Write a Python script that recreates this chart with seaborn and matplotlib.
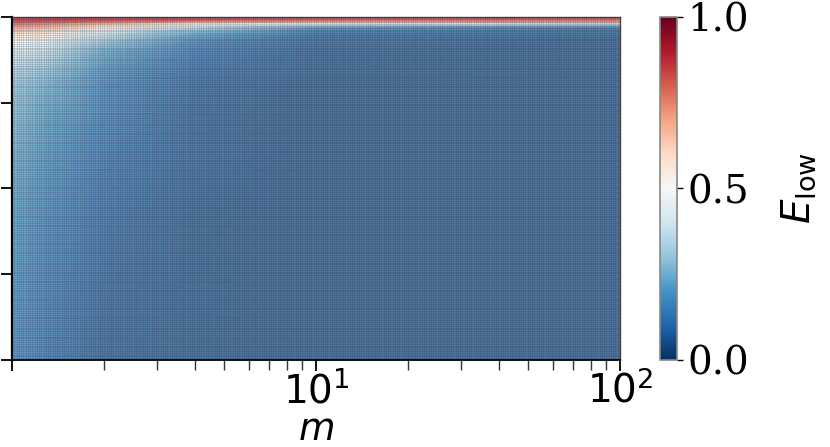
import numpy as np
import matplotlib
matplotlib.use("Agg")
import matplotlib.pyplot as plt
import seaborn as sns
from matplotlib.ticker import FixedLocator, NullFormatter, MultipleLocator
from matplotlib.colors import Normalize, ListedColormap
from matplotlib.cm import ScalarMappable

# ---- data ----
m_values = [1, 1.3, 2, 4, 10, 100]
y_values = [0, 0.2, 0.4, 0.6, 0.7, 0.8, 0.85, 0.9, 0.93, 0.95, 0.97, 0.98, 0.99, 1.0]
E_low = [
    [0.14, 0.10, 0.06, 0.05, 0.04, 0.04],   # y=0
    [0.16, 0.11, 0.07, 0.05, 0.04, 0.04],   # y=0.2
    [0.19, 0.13, 0.08, 0.05, 0.04, 0.04],   # y=0.4
    [0.23, 0.17, 0.10, 0.06, 0.04, 0.04],   # y=0.6
    [0.26, 0.20, 0.12, 0.06, 0.04, 0.04],   # y=0.7
    [0.29, 0.24, 0.14, 0.07, 0.04, 0.04],   # y=0.8
    [0.34, 0.29, 0.17, 0.08, 0.05, 0.04],   # y=0.85
    [0.42, 0.37, 0.22, 0.10, 0.05, 0.04],   # y=0.9
    [0.50, 0.46, 0.30, 0.13, 0.06, 0.04],   # y=0.93
    [0.58, 0.54, 0.39, 0.20, 0.07, 0.05],   # y=0.95
    [0.72, 0.68, 0.55, 0.35, 0.15, 0.08],   # y=0.97
    [0.82, 0.78, 0.70, 0.55, 0.45, 0.35],   # y=0.98
    [0.90, 0.90, 0.88, 0.85, 0.82, 0.80],   # y=0.99
    [0.95, 0.95, 0.95, 0.95, 0.95, 0.95],   # y=1.0
]
cbar_ticks = [0.0, 0.5, 1.0]
cbar_ticklabels = ["0.0", "0.5", "1.0"]
x_ticks = [1, 10, 100]
x_ticklabels = ["", r"$10^1$", r"$10^2$"]
y_ticks = [0, 0.25, 0.5, 0.75, 1.0]

sns.set_theme(style="ticks")
plt.rcParams['font.family'] = ['DejaVu Sans']
plt.rcParams['mathtext.fontset'] = 'dejavusans'
plt.rcParams['text.color'] = 'black'
plt.rcParams['axes.labelcolor'] = 'black'
plt.rcParams['xtick.color'] = 'black'
plt.rcParams['ytick.color'] = 'black'

cmap = sns.color_palette("RdBu_r", as_cmap=True)
# washed-out version of the same map for the field (semi-transparent look)
_c = cmap(np.linspace(0, 1, 256))
_c[:, :3] = _c[:, :3] * 0.74 + np.array([0.27, 0.26, 0.24])
_c[:, :3] = np.clip(_c[:, :3], 0, 1)
field_cmap = ListedColormap(_c)
norm = Normalize(0, 1)

fig = plt.figure(figsize=(8.3, 4.47), dpi=100)
ax = fig.add_axes([12/830, 87/447, 608/830, 343/447])
cax = fig.add_axes([660/830, 87/447, 17/830, 343/447])

X, Y = np.meshgrid(np.array(m_values, float), np.array(y_values, float))
ax.pcolormesh(X, Y, np.array(E_low), cmap=field_cmap, norm=norm,
              shading="gouraud", antialiased=False, rasterized=True)
ax.set_xscale("log")
ax.set_xlim(1, 100)
ax.set_ylim(0, 1)

ax.xaxis.set_major_locator(FixedLocator(x_ticks))
ax.set_xticklabels(x_ticklabels)
ax.xaxis.set_minor_formatter(NullFormatter())
ax.set_yticks(y_ticks)
ax.set_yticklabels([""] * len(y_ticks))
ax.tick_params(axis="both", which="major", direction="out", length=8, width=1.3,
               labelsize=28, color="black", labelcolor="black", pad=0)
ax.tick_params(axis="x", which="minor", direction="out", length=7, width=1.0, color="#333333")
ax.set_xlabel(r"$m$", fontsize=27, color="black")
ax.xaxis.set_label_coords(0.5, -0.152)
for s in ax.spines.values():
    s.set_color("#444444")
    s.set_linewidth(1.0)
ax.spines["left"].set_color("black")
ax.spines["left"].set_linewidth(1.6)
ax.spines["bottom"].set_color("black")
ax.spines["bottom"].set_linewidth(1.3)

# fine texture overlay (styling only)
tex = fig.add_axes(ax.get_position())
tex.set_xlim(0, 1)
tex.set_ylim(0, 1)
tex.patch.set_visible(False)
tex.xaxis.set_major_locator(MultipleLocator(1/270))
tex.yaxis.set_major_locator(MultipleLocator(1/190))
tex.grid(True, color="#1a2a45", linewidth=0.45, alpha=0.25)
tex.tick_params(length=0, labelbottom=False, labelleft=False)
for s in tex.spines.values():
    s.set_visible(False)

sm = ScalarMappable(norm=norm, cmap=cmap)
cb = fig.colorbar(sm, cax=cax)
cb.set_ticks(cbar_ticks)
cb.set_ticklabels(cbar_ticklabels)
cb.ax.tick_params(labelsize=28, length=4, width=1, color="black", labelcolor="black")
for t in cb.ax.get_yticklabels():
    t.set_family("DejaVu Serif")
cb.outline.set_edgecolor("#888888")
cb.outline.set_linewidth(1.2)
cb.set_label(r"$E_{\rm low}$", fontsize=28, labelpad=22, color="black")

fig.savefig("out.png", dpi=100)
